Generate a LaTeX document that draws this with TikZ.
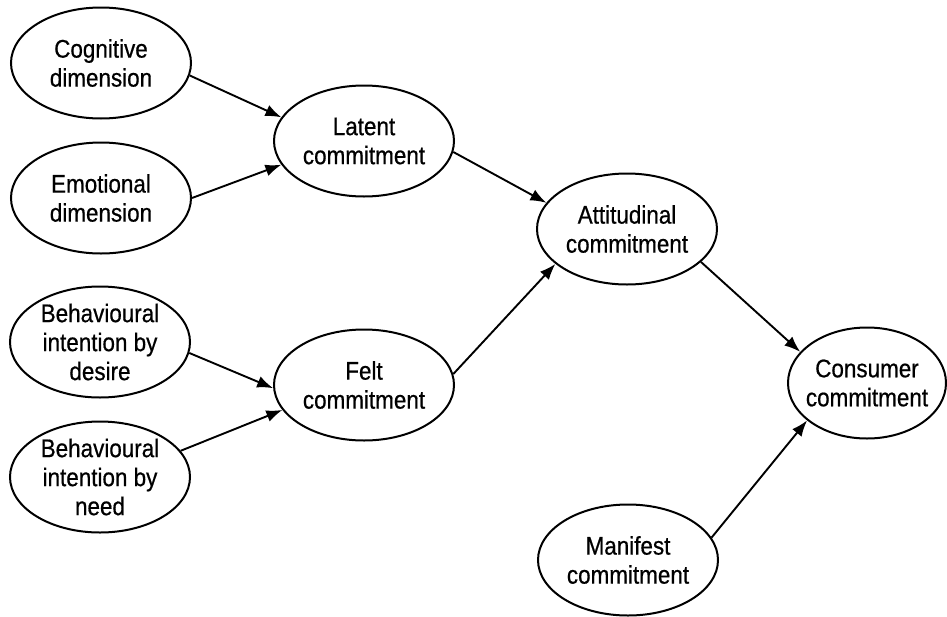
\documentclass[tikz,border=0pt]{standalone}
\usepackage{fontspec}
\setmainfont{Liberation Sans}[FakeStretch=0.88,FakeBold=0.6]
\usetikzlibrary{shapes.geometric,arrows.meta}
\tikzset{
  ell/.style={draw, line width=2pt, ellipse, minimum width=180pt, minimum height=111pt, inner sep=0pt},
  txt/.style={align=center, font=\fontsize{25.5pt}{29pt}\selectfont, inner sep=0pt},
  arr/.style={line width=1.9pt, -{Latex[length=16pt,width=12pt]}}
}
\begin{document}
\begin{tikzpicture}[x=1pt,y=-1pt]
\useasboundingbox (0,0) rectangle (947,616);
% ellipses
\node[ell] (cog)  at (101,63)  {};
\node[ell] (emo)  at (101,198) {};
\node[ell] (lat)  at (364,141) {};
\node[ell] (att)  at (627,229) {};
\node[ell] (des)  at (100,342) {};
\node[ell] (felt) at (364,385) {};
\node[ell] (need) at (100,477) {};
\node[ell, minimum width=158pt] (con) at (867,383) {};
\node[ell] (man)  at (628,560) {};
% texts
\node[txt] (cogt)  at (cog)  {Cognitive\\dimension};
\node[txt] (emot)  at (emo)  {Emotional\\dimension};
\node[txt] (latt)  at (lat)  {Latent\\commitment};
\node[txt] (attt)  at (att)  {Attitudinal\\commitment};
\node[txt] (dest)  at (des)  {Behavioural\\intention by\\desire};
\node[txt] (feltt) at (felt) {Felt\\commitment};
\node[txt] (needt) at (need) {Behavioural\\intention by\\need};
\node[txt] (cont)  at (con)  {Consumer\\commitment};
\node[txt] (mant)  at (man)  {Manifest\\commitment};
% connectors
\draw[arr] (cog.-8)   -- (lat.164);
\draw[arr] (emo.0)    -- (lat.-164);
\draw[arr] (lat.-7)   -- (att.162);
\draw[arr] (des.-7)   -- (felt.-178);
\draw[arr] (need.18)  -- (felt.-163);
\draw[arr] (felt.7)   -- (att.-154);
\draw[arr] (att.-24)  -- (con.155);
\draw[arr] (man.15)   -- (con.-148);
\end{tikzpicture}
\end{document}
